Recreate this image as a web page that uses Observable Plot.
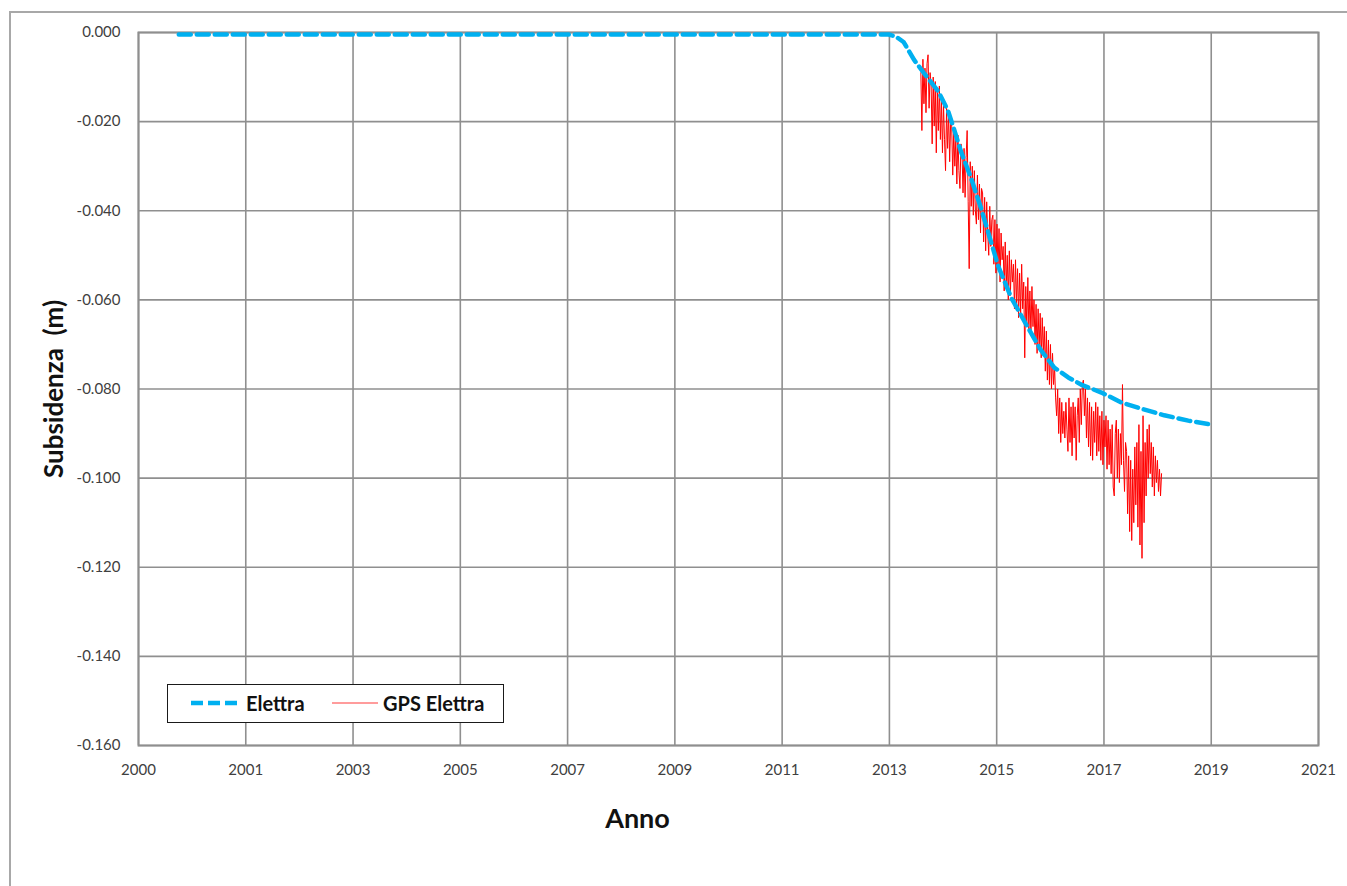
<!DOCTYPE html>
<html>
<head>
<meta charset="utf-8">
<script src="https://cdn.jsdelivr.net/npm/d3@7"></script>
<script src="https://cdn.jsdelivr.net/npm/@observablehq/plot@0.6"></script>
<style>
  html, body { margin: 0; padding: 0; background: #fff; overflow: hidden; }
  #chart { position: relative; width: 1347px; height: 886px; }
  #chart svg.plot { position: absolute; left: 0; top: 0; }
  #outer { position: absolute; left: 9px; top: 11px; width: 1400px; height: 1000px;
           border: 2px solid #a8a8a8; box-sizing: border-box; pointer-events: none; }
  #legend { position: absolute; left: 167px; top: 684px; width: 337px; height: 39px;
            border: 1.6px solid #1a1a1a; box-sizing: border-box; background: #fff; }
  #legend svg { position: absolute; left: 0; top: 0; overflow: visible; }
  #legend text { font-family: Lato, sans-serif; font-weight: bold; font-size: 20px; fill: #111; }
</style>
</head>
<body>
<div id="chart"><div id="outer"></div></div>
<script>
// Axis ticks: the date axis steps in 730-day units from 1 Jan 2000
const xTickDates = ["2000-01-01", "2001-12-31", "2003-12-31", "2005-12-30", "2007-12-30", "2009-12-29",
                    "2011-12-29", "2013-12-28", "2015-12-28", "2017-12-27", "2019-12-27", "2021-12-26"];
const yTicks = [0, -0.02, -0.04, -0.06, -0.08, -0.1, -0.12, -0.14, -0.16];

// "Elettra" modelled subsidence (m)
const modelDates = ["2000-10-01", "2013-12-24", "2014-02-10", "2014-04-05", "2014-06-13", "2014-08-22",
                    "2014-11-25", "2015-01-30", "2015-03-11", "2015-05-01", "2015-07-05", "2015-09-13",
                    "2015-11-17", "2016-01-08", "2016-04-05", "2016-07-27", "2016-10-26", "2017-01-23",
                    "2017-04-28", "2017-07-24", "2017-12-10", "2018-04-23", "2018-09-06", "2019-02-10",
                    "2019-07-24", "2019-12-28"];
const modelValues = [-0.00045, -0.00045, -0.0009, -0.0022, -0.0061, -0.0092,
                     -0.0132, -0.0175, -0.0215, -0.0269, -0.0325, -0.0395,
                     -0.0467, -0.0525, -0.0595, -0.0662, -0.0714, -0.0752,
                     -0.0774, -0.0790, -0.0808, -0.0830, -0.0844, -0.0859,
                     -0.0871, -0.0880];

// "GPS Elettra" weekly solutions, subsidence in millimetres
const gpsStart = "2014-07-30";
const gpsStepDays = 7;
const gpsMm = [
  9, 22, 6, 16, 8, 18, 7, 5, 17, 9,
  12, 25, 10, 21, 11, 27, 13, 22, 12, 24,
  15, 27, 16, 24, 31, 17, 26, 18, 29, 20,
  21, 32, 22, 30, 24, 34, 23, 31, 35, 25,
  27, 36, 26, 37, 28, 22, 38, 53, 29, 39,
  30, 41, 31, 40, 43, 32, 42, 34, 45, 35,
  36, 47, 37, 49, 38, 45, 50, 39, 48, 42,
  41, 52, 42, 54, 43, 53, 44, 56, 45, 51,
  48, 58, 47, 57, 50, 60, 49, 59, 51, 56,
  52, 62, 51, 61, 53, 64, 54, 63, 52, 62,
  56, 73, 57, 66, 55, 67, 58, 68, 57, 66,
  60, 70, 61, 72, 62, 71, 63, 73, 64, 72,
  66, 76, 67, 78, 69, 79, 70, 80, 72, 79,
  75, 82, 86, 80, 90, 82, 92, 83, 90, 85,
  91, 83, 89, 94, 82, 92, 84, 95, 83, 91,
  84, 96, 86, 82, 92, 80, 88, 79, 78, 86,
  80, 91, 82, 93, 83, 95, 84, 96, 85, 92,
  83, 95, 84, 94, 86, 96, 85, 97, 87, 93,
  86, 98, 87, 97, 89, 99, 88, 102, 104, 90,
  87, 100, 89, 101, 90, 97, 79, 96, 103, 92,
  94, 108, 95, 112, 96, 114, 98, 110, 93, 106,
  92, 111, 88, 115, 94, 118, 86, 110, 92, 104,
  89, 100, 88, 99, 92, 102, 93, 104, 95, 101,
  96, 103, 98, 104, 99
];

const parse = d3.utcParse("%Y-%m-%d");
const xTicks = xTickDates.map(parse);
const model = modelDates.map((d, i) => ({date: parse(d), value: modelValues[i]}));
const start = parse(gpsStart);
const gps = gpsMm.map((mm, i) => ({date: d3.utcDay.offset(start, i * gpsStepDays), value: -mm / 1000}));

const gridColor = "#8f8f8f";
const blue = "#00b0f0";

const chart = Plot.plot({
  width: 1347,
  height: 886,
  marginLeft: 138,
  marginRight: 29,
  marginTop: 32,
  marginBottom: 141,
  style: {fontFamily: "Lato, sans-serif", fontSize: "15px", color: "#404040", background: "transparent", overflow: "visible"},
  x: {type: "utc", domain: [xTicks[0], xTicks[xTicks.length - 1]]},
  y: {domain: [-0.16, 0]},
  marks: [
    Plot.gridX(xTicks, {stroke: gridColor, strokeOpacity: 1, strokeWidth: 1.6}),
    Plot.gridY(yTicks, {stroke: gridColor, strokeOpacity: 1, strokeWidth: 1.6}),
    Plot.frame({stroke: gridColor, strokeWidth: 2}),
    Plot.axisX(xTicks, {tickSize: 0, tickPadding: 19, tickFormat: d3.utcFormat("%Y"), label: null}),
    Plot.axisY(yTicks, {tickSize: 0, tickPadding: 18, tickFormat: d => d.toFixed(3), label: null}),
    Plot.line(gps, {x: "date", y: "value", stroke: "#ff0000", strokeWidth: 1}),
    Plot.line(model, {x: "date", y: "value", stroke: blue, strokeWidth: 4.5, strokeDasharray: "12,6"}),
    Plot.text(["Subsidenza\u00a0\u00a0(m)"], {frameAnchor: "left", textAnchor: "middle", lineAnchor: "middle",
      rotate: -90, dx: -84, fontSize: 26, fontWeight: "bold", fill: "#111"}),
    Plot.text(["Anno"], {frameAnchor: "bottom", textAnchor: "middle", lineAnchor: "middle", dx: -91, dy: 74,
      fontSize: 27, fontWeight: "bold", fill: "#111"})
  ]
});
chart.classList.add("plot");
document.getElementById("chart").prepend(chart);

// Legend box inside the plotting area
const legend = document.createElement("div");
legend.id = "legend";
legend.innerHTML = `
  <svg width="337" height="39">
    <line x1="23" x2="70" y1="18" y2="18" stroke="${blue}" stroke-width="4.5" stroke-dasharray="12,5"/>
    <text x="78" y="25.5">Elettra</text>
    <line x1="164" x2="210" y1="18" y2="18" stroke="#ff3b3b" stroke-width="1.2"/>
    <text x="215" y="25.5">GPS Elettra</text>
  </svg>`;
document.getElementById("chart").appendChild(legend);
</script>
</body>
</html>
